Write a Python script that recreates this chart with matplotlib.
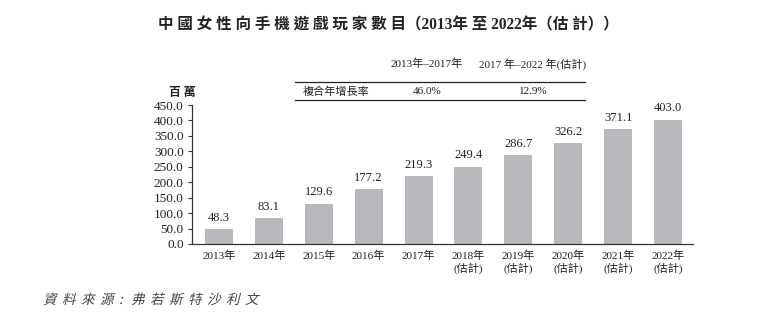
import matplotlib
matplotlib.use('Agg')
from matplotlib import pyplot as plt
from matplotlib.textpath import TextPath
from matplotlib.patches import PathPatch
from matplotlib.font_manager import FontProperties
from matplotlib.transforms import Affine2D
import numpy as np

# players (millions)
years = ['2013年', '2014年', '2015年', '2016年', '2017年',
         '2018年\n(估計)', '2019年\n(估計)', '2020年\n(估計)',
         '2021年\n(估計)', '2022年\n(估計)']
players = [48.3, 83.1, 129.6, 177.2, 219.3, 249.4, 286.7, 326.2, 371.1, 403.0]
yticks = [0, 50, 100, 150, 200, 250, 300, 350, 400, 450]

# CAGR table
cagr_periods = ['2013年–2017年', '2017 年–2022 年(估計)']
cagr_values = ['46.0%', '12.9%']

source = '資料來源:弗若斯特沙利文'

fonts = ['Liberation Serif', 'Noto Sans CJK TC', 'DejaVu Sans']
plt.rcParams['font.family'] = fonts
ink = '#222222'

fig = plt.figure(figsize=(7.8, 3.31), dpi=100)
ax = fig.add_axes([192/780, 1-244/331, (693-192)/780, (244-105)/331])

x = np.arange(len(players))
ax.bar(x, players, width=0.56, color='#b9b9bd')
for xi, v in zip(x, players):
    ax.annotate('%.1f' % v, (xi, v), xytext=(0, 4), textcoords='offset points',
                ha='center', va='bottom', fontsize=9, color=ink)

ax.set_xlim(-0.54, 9.5)
ax.set_ylim(0, 450)
ax.set_yticks(yticks)
ax.set_yticklabels(['%.1f' % t for t in yticks], fontsize=9.5, color=ink)
ax.set_xticks(x)
ax.set_xticklabels(years, fontsize=8, color=ink, linespacing=1.1)
ax.tick_params(axis='x', length=0, pad=5)
ax.tick_params(axis='y', length=3, width=0.8, pad=3, color='#333333')
for s in ['top', 'right']:
    ax.spines[s].set_visible(False)
for s in ['left', 'bottom']:
    ax.spines[s].set_color('#333333')
    ax.spines[s].set_linewidth(0.9)

# title
fig.text(388/780, 1-25/331, '中 國 女 性 向 手 機 遊 戲 玩 家 數 目（2013年 至 2022年（估 計））',
         ha='center', va='center', fontsize=11.2, fontweight='bold', color=ink)

# unit
fig.text(182/780, 1-93/331, '百 萬', ha='center', va='center', fontsize=8.5,
         fontweight='bold', color=ink)

# CAGR table
fig.text(427/780, 1-64/331, cagr_periods[0], ha='center', va='center', fontsize=8, color=ink)
fig.text(533/780, 1-64/331, cagr_periods[1], ha='center', va='center', fontsize=8, color=ink)
fig.text(303/780, 1-92/331, '複合年增長率', ha='left', va='center', fontsize=8, color=ink)
fig.text(427/780, 1-92/331, cagr_values[0], ha='center', va='center', fontsize=8, color=ink)
fig.text(533/780, 1-92/331, cagr_values[1], ha='center', va='center', fontsize=8, color=ink)
fig.add_artist(plt.Line2D([295/780, 585/780], [1-82/331, 1-82/331], color=ink, lw=0.9))
fig.add_artist(plt.Line2D([295/780, 585/780], [1-100/331, 1-100/331], color=ink, lw=0.9))

# source line, slanted by hand since the CJK font has no italic
fp = FontProperties(family='Noto Sans CJK TC', weight='light')
px = 43.0
for ch in source:
    tp = TextPath((0, 0), ch, size=13.5, prop=fp)
    tr = Affine2D().skew_deg(14, 0).translate(px, 331 - 304)
    fig.add_artist(PathPatch(tp, transform=tr, facecolor='#444444', edgecolor='none'))
    px += 12.0 if ch == ':' else 19.0

fig.savefig('out.png', dpi=100)
